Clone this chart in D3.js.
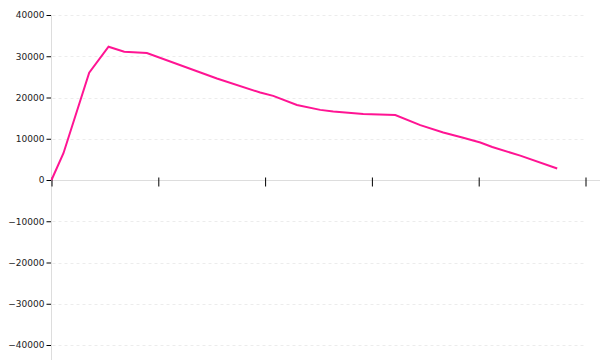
<!DOCTYPE html>
<html lang="en">
	<head>
		<meta charset="utf-8">
		<title>Line chart</title>
		<script type="text/javascript" src="https://d3js.org/d3.v7.min.js"></script>
		<style type="text/css">
			body {
				margin: 0;
				background-color: white;
			}
			.tick text {
				font-family: "DejaVu Sans", sans-serif;
				font-size: 9px;
				fill: #222;
			}
		</style>
	</head>
	<body>
		<script type="text/javascript">

			// data
			var xValues = [0, 1.12, 3.53, 5.34, 6.81, 8.93, 15.49, 19.54, 20.76, 22.98, 25.16,
						   26.38, 29.19, 32.19, 34.53, 36.68, 38.55, 40.15, 41.27, 43.89, 47.35];
			var yValues = [0, 6500, 26000, 32300, 31100, 30800, 24600, 21200, 20400, 18200, 17000,
						   16600, 16000, 15750, 13300, 11500, 10250, 9100, 8000, 5900, 2800];
			var xTicks = [0, 10, 20, 30, 40, 50];
			var yTicks = [-40000, -30000, -20000, -10000, 0, 10000, 20000, 30000, 40000];

			var data = xValues.map(function(x, i) {
				return { x: x, y: yValues[i] };
			});

			// (window.top is read-only, so plot edges get their own names)
			var width = 600, height = 360;
			var plotLeft = 51.5, plotRight = 585.5, plotTop = 15, plotBottom = 345;

			var svg = d3.select("body")
						.append("svg")
						.attr("width", width)
						.attr("height", height);

			var x = d3.scaleLinear().domain([0, 50]).range([plotLeft, plotRight]);
			var y = d3.scaleLinear().domain([-40000, 40000]).range([plotBottom, plotTop]);

			// grid lines
			svg.append("g")
				.selectAll("line")
				.data(yTicks.filter(function(d) { return d !== 0; }))
				.enter()
				.append("line")
				.attr("x1", plotLeft + 1)
				.attr("x2", plotRight)
				.attr("y1", function(d) { return Math.round(y(d)) + 0.5; })
				.attr("y2", function(d) { return Math.round(y(d)) + 0.5; })
				.attr("stroke", "#ececec")
				.attr("stroke-dasharray", "3,3");

			// y axis
			var yAxis = svg.append("g")
				.attr("transform", "translate(" + plotLeft + ",0)")
				.call(d3.axisLeft(y).tickValues(yTicks).tickSize(5).tickPadding(2).tickFormat(d3.format("d")));
			yAxis.select(".domain").remove();
			yAxis.selectAll(".tick line").attr("stroke", "#000");
			yAxis.append("line")
				.attr("y1", plotTop)
				.attr("y2", height)
				.attr("stroke", "#ddd");

			// x axis at zero
			var xAxis = svg.append("g")
				.attr("transform", "translate(0," + (Math.round(y(0)) + 0.5) + ")")
				.call(d3.axisBottom(x).tickValues(xTicks).tickSize(0).tickFormat(""));
			xAxis.select(".domain").remove();
			xAxis.append("line")
				.attr("x1", plotLeft)
				.attr("x2", width)
				.attr("stroke", "#ddd");
			xAxis.selectAll(".tick line")
				.attr("y1", -3)
				.attr("y2", 6)
				.attr("stroke", "#000");
			xAxis.selectAll(".tick").raise();

			// the line
			var line = d3.line()
						.x(function(d) { return x(d.x); })
						.y(function(d) { return y(d.y); });

			svg.append("path")
				.datum(data)
				.attr("fill", "none")
				.attr("stroke", "#ff1493")
				.attr("stroke-width", 2)
				.attr("d", line);

		</script>
	</body>
</html>
